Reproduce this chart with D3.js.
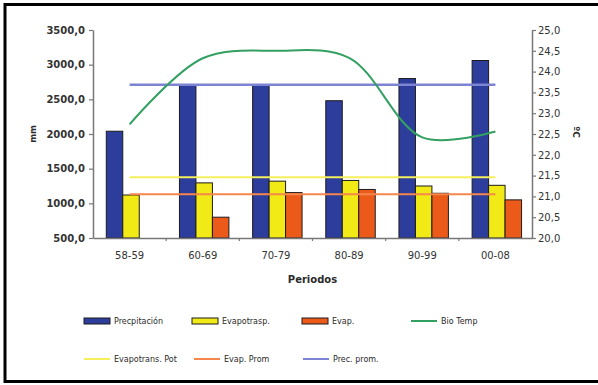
<!DOCTYPE html>
<html><head><meta charset="utf-8">
<script src="https://cdn.jsdelivr.net/npm/d3@7"></script>
<style>
html,body{margin:0;padding:0;background:#fff;}
svg{display:block;}
text{font-family:"DejaVu Sans",sans-serif;fill:#2a2a2a;}
</style></head>
<body>
<script>
const categories = ["58-59","60-69","70-79","80-89","90-99","00-08"];
const precipitacion = [2040, 2710, 2710, 2480, 2800, 3060];
const evapotrasp = [1120, 1295, 1320, 1330, 1250, 1260];
const evap = [null, 800, 1155, 1200, 1145, 1050];
const bioTemp = [22.73, 24.32, 24.5, 24.33, 22.42, 22.56];
const evapotransPot = [1375, 1375, 1375, 1375, 1375, 1375];
const evapProm = [1130, 1130, 1130, 1130, 1130, 1130];
const precProm = [2710, 2710, 2710, 2710, 2710, 2710];
const leftTicks = [500, 1000, 1500, 2000, 2500, 3000, 3500];
const rightTicks = [20, 20.5, 21, 21.5, 22, 22.5, 23, 23.5, 24, 24.5, 25];

const W = 598, H = 385;
const L = 93, R = 532, T = 30, B = 238;
const svg = d3.select("body").append("svg").attr("width", W).attr("height", H);
const loc = d3.formatLocale({decimal: ",", thousands: "", grouping: [3], currency: ["", ""]});
const fmt = loc.format(".1f");

const x = d3.scaleBand().domain(categories).range([L, R]).paddingInner(0).paddingOuter(0);
const yL = d3.scaleLinear().domain([500, 3500]).range([B, T]);
const yR = d3.scaleLinear().domain([20, 25]).range([B, T]);
const series = ["p", "e", "v"];
const xs = d3.scaleBand().domain(series).range([0, x.bandwidth()]).paddingInner(0).paddingOuter(0.72).align(0.56);

// frame
svg.append("path").attr("d", `M${W+5},4.5 H5 V381.5 H${W+5}`).attr("fill", "none").attr("stroke", "#000").attr("stroke-width", 3);

const colors = {p: "#2d3d9c", e: "#f1ea16", v: "#ec5a1a"};
const data = {p: precipitacion, e: evapotrasp, v: evap};
const gBars = svg.append("g");
series.forEach(s => {
  gBars.selectAll(null).data(categories.map((c, i) => ({c, v: data[s][i]})).filter(d => d.v != null))
    .enter().append("rect")
    .attr("x", d => x(d.c) + xs(s))
    .attr("y", d => yL(d.v))
    .attr("width", xs.bandwidth())
    .attr("height", d => B - yL(d.v))
    .attr("fill", colors[s]).attr("stroke", "#1c1c1c").attr("stroke-width", 1);
});

const cx = c => x(c) + x.bandwidth() / 2;
const lineL = d3.line().x((d, i) => cx(categories[i])).y(d => yL(d));
svg.append("path").attr("d", lineL(evapotransPot)).attr("fill", "none").attr("stroke", "#f6ef5c").attr("stroke-width", 2);
svg.append("path").attr("d", lineL(evapProm)).attr("fill", "none").attr("stroke", "#f5874c").attr("stroke-width", 2);
svg.append("path").attr("d", lineL(precProm)).attr("fill", "none").attr("stroke", "#7d84d4").attr("stroke-width", 2.5);
const lineR = d3.line().x((d, i) => cx(categories[i])).y(d => yR(d)).curve(d3.curveCatmullRom.alpha(0.5));
svg.append("path").attr("d", lineR(bioTemp)).attr("fill", "none").attr("stroke", "#33a062").attr("stroke-width", 2);

// axes
const axisStyle = g => {
  g.select(".domain").attr("stroke", "#777").attr("stroke-width", 1.5);
  g.selectAll(".tick line").attr("stroke", "#777").attr("stroke-width", 1.2);
};
const gl = svg.append("g").attr("transform", `translate(${L},0)`)
  .call(d3.axisLeft(yL).tickValues(leftTicks).tickFormat(fmt).tickSize(4).tickSizeOuter(0).tickPadding(4));
axisStyle(gl);
gl.selectAll("text").attr("font-size", 10).attr("font-weight", "bold").attr("font-family", "DejaVu Sans").style("fill", "#333");
const gr = svg.append("g").attr("transform", `translate(${R},0)`)
  .call(d3.axisRight(yR).tickValues(rightTicks).tickFormat(fmt).tickSize(4).tickSizeOuter(0).tickPadding(2));
axisStyle(gr);
gr.selectAll("text").attr("font-size", 10).attr("font-family", "DejaVu Sans").style("fill", "#333");
const gb = svg.append("g").attr("transform", `translate(0,${B})`)
  .call(d3.axisBottom(x).tickSize(0).tickSizeOuter(0).tickPadding(14));
axisStyle(gb);
gb.selectAll("text").attr("font-size", 10).attr("font-family", "DejaVu Sans").style("fill", "#333");
gb.selectAll(null).data(categories.slice(1)).enter().append("line")
  .attr("x1", d => x(d)).attr("x2", d => x(d)).attr("y1", 0).attr("y2", 3)
  .attr("stroke", "#777").attr("stroke-width", 1.2);

// titles
svg.append("text").attr("x", (L + R) / 2).attr("y", 283).attr("text-anchor", "middle")
  .attr("font-size", 10).attr("font-weight", "bold").text("Periodos");
svg.append("text").attr("transform", "translate(36,134) rotate(-90)").attr("text-anchor", "middle")
  .attr("font-size", 8.5).attr("font-weight", "bold").text("mm");
svg.append("text").attr("transform", "translate(573,132) rotate(90)").attr("text-anchor", "middle")
  .attr("font-size", 9).attr("font-weight", "bold").text("ºC");

// legend
const legend = [
  {label: "Precpitación", type: "bar", color: colors.p, x: 84, y: 321},
  {label: "Evapotrasp.", type: "bar", color: colors.e, x: 192, y: 321},
  {label: "Evap.", type: "bar", color: colors.v, x: 302, y: 321},
  {label: "Bio Temp", type: "line", color: "#33a062", x: 411, y: 321},
  {label: "Evapotrans. Pot", type: "line", color: "#f6ef5c", x: 84, y: 359},
  {label: "Evap. Prom", type: "line", color: "#f5874c", x: 194, y: 359},
  {label: "Prec. prom.", type: "line", color: "#7d84d4", x: 303, y: 359}
];
const lg = svg.append("g");
legend.forEach(d => {
  if (d.type === "bar") {
    lg.append("rect").attr("x", d.x).attr("y", d.y - 3).attr("width", 26).attr("height", 6)
      .attr("fill", d.color).attr("stroke", "#1c1c1c").attr("stroke-width", 1);
  } else {
    lg.append("line").attr("x1", d.x).attr("x2", d.x + 26).attr("y1", d.y).attr("y2", d.y)
      .attr("stroke", d.color).attr("stroke-width", 2);
  }
  lg.append("text").attr("x", d.x + 30).attr("y", d.y + 3).attr("font-size", 8).text(d.label);
});
</script>
</body></html>
